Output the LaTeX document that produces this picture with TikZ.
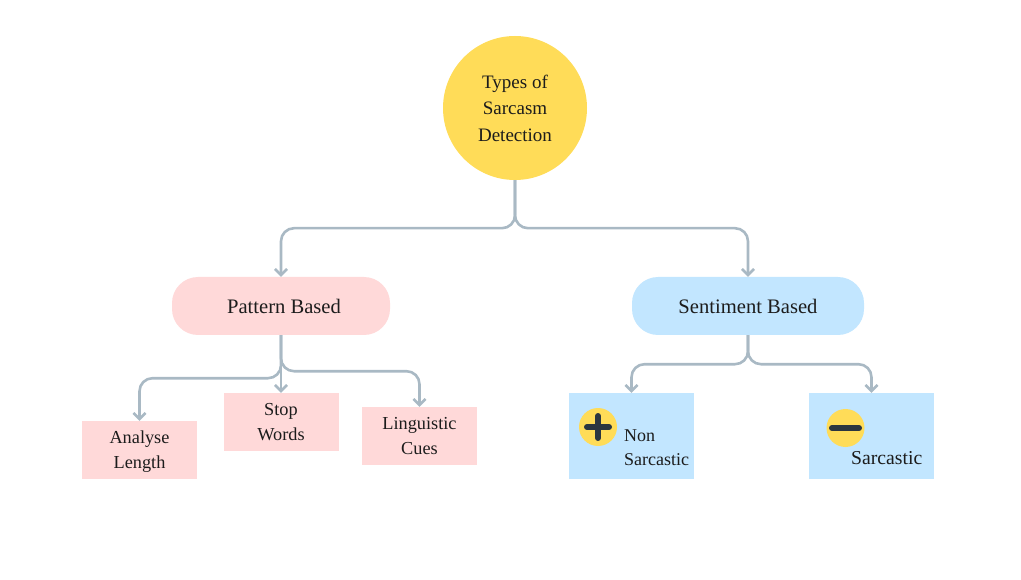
\documentclass[tikz,border=0pt]{standalone}
\usepackage{fontspec}
\setmainfont{Liberation Serif}
\usetikzlibrary{shapes,arrows.meta}
\definecolor{sunny}{HTML}{FFDC58}
\definecolor{pinkbox}{HTML}{FFD9D9}
\definecolor{bluebox}{HTML}{C2E6FF}
\definecolor{linkgray}{HTML}{A9B9C4}
\definecolor{inkdark}{HTML}{2B3640}
\definecolor{textdark}{HTML}{1C1C1C}
\tikzset{
  every node/.style={text=textdark, font=\fontsize{18.3}{25}\selectfont, align=center, inner sep=0pt},
  pill/.style={rounded corners=26, minimum height=58, font=\fontsize{20.6}{25}\selectfont},
  box/.style={minimum width=115, minimum height=58, fill=pinkbox},
  bigbox/.style={minimum width=125, minimum height=86, fill=bluebox},
  badge/.style={circle, fill=sunny, minimum size=38},
  link/.style={draw=linkgray, line width=2.6, rounded corners=13, -{Straight Barb[length=6,width=12]}},
  stroke/.style={draw=inkdark, line width=6, line cap=round}
}
\begin{document}
\begin{tikzpicture}[x=1pt,y=-1pt]
  \useasboundingbox (0,0) rectangle (1021,580);

  \node[circle, fill=sunny, minimum size=144, font=\fontsize{19}{26.5}\selectfont] (root) at (515,108) {Types of\\Sarcasm\\Detection};

  \node[pill, fill=pinkbox, minimum width=218] (pattern) at (281,306) {\hspace*{6pt}\raisebox{-1pt}{Pattern Based}};
  \node[pill, fill=bluebox, minimum width=232] (sentiment) at (748,306) {\raisebox{-1pt}{Sentiment Based}};

  \foreach \x/\y/\name/\body in {139.5/450/analyse/Analyse\\\smash{Length}, 281/422/stop/Stop\\Words, 419.5/436/cues/Linguistic\\Cues}{
    \node[box] (\name) at (\x,\y) {\body}; }

  \node[bigbox] (non) at (631.5,436) {};
  \node[bigbox] (sarc) at (871.5,436) {};

  \node[badge] (plus) at (598,427) {};
  \draw[stroke] ([xshift=-11]plus.center) -- ([xshift=11]plus.center);
  \draw[stroke] ([yshift=-11]plus.center) -- ([yshift=11]plus.center);
  \node[badge] (minus) at (845.5,428) {};
  \draw[stroke] ([xshift=-13.5]minus.center) -- ([xshift=13.5]minus.center);

  \node[align=left, anchor=west, font=\fontsize{18}{24}\selectfont] (nonlabel) at (624,448) {Non\\Sarcastic};
  \node[anchor=west, font=\fontsize{19.7}{24}\selectfont] (sarclabel) at (851,458) {Sarcastic};

  % connectors
  \draw[link] (root.south) -- ++(0,48) -| (pattern.north);
  \draw[link] (root.south) -- ++(0,48) -| (sentiment.north);

  \draw[link] (pattern.south) -- ++(0,43) -| (analyse.north);
  \draw[link] (pattern.south) -- (stop.north);
  \draw[link] (pattern.south) -- ++(0,36) -| (cues.north);

  \draw[link] (sentiment.south) -- ++(0,29) -| (non.north);
  \draw[link] (sentiment.south) -- ++(0,29) -| (sarc.north);
\end{tikzpicture}
\end{document}
